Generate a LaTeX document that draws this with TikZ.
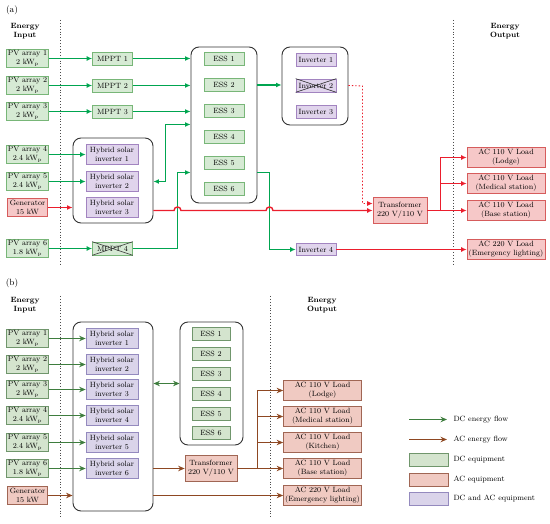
\documentclass[tikz,border=0pt]{standalone}
\usepackage{amsmath}
\usepackage{tikz}
\usetikzlibrary{arrows.meta, positioning}

\definecolor{dcflowA}{RGB}{0,165,80}
\definecolor{acflowA}{RGB}{235,30,45}
\definecolor{dcflowB}{RGB}{62,125,62}
\definecolor{acflowB}{RGB}{142,72,34}
\definecolor{dcfillA}{RGB}{214,234,212}
\definecolor{dclineA}{RGB}{120,182,120}
\definecolor{acfillA}{RGB}{246,200,200}
\definecolor{aclineA}{RGB}{214,92,92}
\definecolor{hyfillA}{RGB}{224,212,236}
\definecolor{hylineA}{RGB}{162,132,192}
\definecolor{dcfillB}{RGB}{212,228,206}
\definecolor{dclineB}{RGB}{112,150,108}
\definecolor{acfillB}{RGB}{240,202,194}
\definecolor{aclineB}{RGB}{160,102,84}
\definecolor{hyfillB}{RGB}{218,212,234}
\definecolor{hylineB}{RGB}{148,138,190}

\begin{document}
\begin{tikzpicture}[
    x=1pt, y=-1pt,
    every node/.style={font=\fontsize{7.6}{8.6}\selectfont},
    unit/.style={draw, align=center, inner sep=1pt, line width=0.7pt},
    dcboxA/.style={unit, fill=dcfillA, draw=dclineA},
    acboxA/.style={unit, fill=acfillA, draw=aclineA},
    hyboxA/.style={unit, fill=hyfillA, draw=hylineA},
    dcboxB/.style={unit, fill=dcfillB, draw=dclineB},
    acboxB/.style={unit, fill=acfillB, draw=aclineB},
    hyboxB/.style={unit, fill=hyfillB, draw=hylineB},
    srcsize/.style={minimum width=40pt, minimum height=18pt},
    smallsize/.style={minimum width=40pt, minimum height=13pt},
    hybsize/.style={minimum width=52pt, minimum height=20pt},
    loadsize/.style={minimum width=78pt, minimum height=20pt},
    trafosize/.style={minimum width=54pt, minimum height=26pt},
    group/.style={draw=black!80, rounded corners=8pt, line width=0.9pt},
    dcA/.style={color=dcflowA, line width=1.4pt, -{Latex[length=5.5pt,width=5pt]}},
    acA/.style={color=acflowA, line width=1.4pt, -{Latex[length=5.5pt,width=5pt]}},
    dcB/.style={color=dcflowB, line width=1.4pt, -{Stealth[length=6.5pt,width=5.5pt]}},
    acB/.style={color=acflowB, line width=1.4pt, -{Stealth[length=6.5pt,width=5.5pt]}},
    divider/.style={draw=black!70, dotted, line width=0.9pt},
    heading/.style={font=\fontsize{7.6}{9}\selectfont\bfseries, align=center}
]
\useasboundingbox (0,0) rectangle (550,524);

%% ---------------- (a) ----------------
\node (tagA) at (12,10) {\fontsize{9}{10}\selectfont (a)};
\node[heading] (inA) at (25,31) {Energy\\Input};
\node[heading] (outA) at (505,31) {Energy\\Output};
\coordinate (dA1) at (60,20);
\coordinate (dA2) at (60,265);
\coordinate (dA3) at (453,20);
\coordinate (dA4) at (453,265);
\draw[divider] (dA1) -- (dA2);
\draw[divider] (dA3) -- (dA4);

% containers
\node[group, minimum width=66pt, minimum height=156pt] (essboxA) at (224,125) {};
\node[group, minimum width=80pt, minimum height=85pt] (hybboxA) at (113,180.5) {};
\node[group, minimum width=66pt, minimum height=78pt] (invboxA) at (315,86) {};

% sources
\node[dcboxA, srcsize] (pvA1) at (27.5,58.5) {PV array 1\\2 kW$_\mathrm{p}$};
\node[dcboxA, srcsize] (pvA2) at (27.5,85.5) {PV array 2\\2 kW$_\mathrm{p}$};
\node[dcboxA, srcsize] (pvA3) at (27.5,111.5) {PV array 3\\2 kW$_\mathrm{p}$};
\node[dcboxA, srcsize] (pvA4) at (27.5,154.5) {PV array 4\\2.4 kW$_\mathrm{p}$};
\node[dcboxA, srcsize] (pvA5) at (27.5,181.5) {PV array 5\\2.4 kW$_\mathrm{p}$};
\node[acboxA, srcsize] (genA) at (27.5,207.5) {Generator\\15 kW};
\node[dcboxA, srcsize] (pvA6) at (27.5,248.5) {PV array 6\\1.8 kW$_\mathrm{p}$};

% charge controllers
\foreach \i/\y in {1/58.5, 2/85.5, 3/111.5, 4/248.5}
    \node[dcboxA, smallsize] (mpptA\i) at (112.5,\y) {MPPT \i};
\draw[black!75, line width=0.6pt] (mpptA4.north west) -- (mpptA4.south east)
    (mpptA4.south west) -- (mpptA4.north east);

% storage
\foreach \i/\y in {1/59, 2/85, 3/111, 4/137, 5/163, 6/189}
    \node[dcboxA, smallsize] (essA\i) at (224,\y) {ESS \i};

% hybrid inverters
\node[hyboxA, hybsize] (hybA1) at (112,154.5) {Hybrid solar\\inverter 1};
\node[hyboxA, hybsize] (hybA2) at (112,181.5) {Hybrid solar\\inverter 2};
\node[hyboxA, hybsize] (hybA3) at (112,207.5) {Hybrid solar\\inverter 3};

% inverters
\foreach \i/\y in {1/59.5, 2/85.5, 3/112}
    \node[hyboxA, smallsize] (invA\i) at (316,\y) {Inverter \i};
\draw[black!80, line width=0.6pt] (invA2.north west) -- (invA2.south east)
    (invA2.south west) -- (invA2.north east);
\node[hyboxA, smallsize, minimum height=12pt] (invA4) at (316,249.5) {Inverter 4};

% transformer and loads
\node[acboxA, trafosize] (trafoA) at (400,210.5) {Transformer\\220 V/110 V};
\node[acboxA, loadsize] (lodgeA) at (506,157.5) {AC 110 V Load\\(Lodge)};
\node[acboxA, loadsize] (medA) at (506,183.5) {AC 110 V Load\\(Medical station)};
\node[acboxA, loadsize] (baseA) at (506,210.5) {AC 110 V Load\\(Base station)};
\node[acboxA, loadsize] (emerA) at (506,249.5) {AC 220 V Load\\(Emergency lighting)};

% DC flows
\foreach \i in {1,2,3} {
    \draw[dcA] (pvA\i.east |- mpptA\i) -- (mpptA\i);
    \draw[dcA] (mpptA\i) -- (mpptA\i -| essboxA.west);
}
\draw[dcA] (pvA4) -- (hybA1);
\draw[dcA] (pvA5) -- (hybA2);
\draw[dcA] (pvA6) -- (mpptA4);
\coordinate (ja) at (165.5,124.5);
\draw[dcA, {Latex[length=5.5pt,width=5pt]}-{Latex[length=5.5pt,width=5pt]}]
    (ja -| essboxA.west) -- (ja) |- (hybA2 -| hybboxA.east);
\coordinate (jb) at (177.5,172.5);
\draw[dcA] (mpptA4) -| (jb) -- (jb -| essboxA.west);
\coordinate (jc) at (269.5,172.5);
\draw[dcA] (jc -| essboxA.east) -- (jc) |- (invA4);
\draw[dcA] (essA2 -| essboxA.east) -- (essA2 -| invboxA.west);

% AC flows
\draw[acA] (genA) -- (genA -| hybboxA.west);
\coordinate (h1) at (177.5,210.5);
\coordinate (h2) at (269.5,210.5);
\draw[acA] (hybboxA.east |- h1) -- ([xshift=-3.5pt]h1)
    to[out=90, in=90, looseness=1.7] ([xshift=3.5pt]h1) -- ([xshift=-3.5pt]h2)
    to[out=90, in=90, looseness=1.7] ([xshift=3.5pt]h2) -- (trafoA);
\coordinate (jd) at (362.5,86);
\draw[acA, dotted, line width=0.9pt] (invA2 -| invboxA.east) -- (jd) |- ([yshift=7pt]trafoA.west);
\coordinate (je) at (440.5,210.5);
\draw[acA] (trafoA) -- (baseA);
\draw[acA] (je) |- (lodgeA);
\draw[acA] (je |- medA) -- (medA);
\draw[acA] (invA4) -- (emerA);

%% ---------------- (b) ----------------
\node (tagB) at (12,283) {\fontsize{9}{10}\selectfont (b)};
\node[heading] (inB) at (25,305) {Energy\\Input};
\node[heading] (outB) at (322,305) {Energy\\Output};
\coordinate (dB1) at (60,296);
\coordinate (dB2) at (60,517);
\coordinate (dB3) at (270,296);
\coordinate (dB4) at (270,517);
\draw[divider] (dB1) -- (dB2);
\draw[divider] (dB3) -- (dB4);

\node[group, minimum width=80pt, minimum height=189pt] (hybboxB) at (113,416.5) {};
\node[group, minimum width=63pt, minimum height=123pt] (essboxB) at (211.5,383.5) {};

\node[dcboxB, srcsize] (pvB1) at (27.5,338.5) {PV array 1\\2 kW$_\mathrm{p}$};
\node[dcboxB, srcsize] (pvB2) at (27.5,364.5) {PV array 2\\2 kW$_\mathrm{p}$};
\node[dcboxB, srcsize] (pvB3) at (27.5,389.5) {PV array 3\\2 kW$_\mathrm{p}$};
\node[dcboxB, srcsize] (pvB4) at (27.5,415.5) {PV array 4\\2.4 kW$_\mathrm{p}$};
\node[dcboxB, srcsize] (pvB5) at (27.5,442.5) {PV array 5\\2.4 kW$_\mathrm{p}$};
\node[dcboxB, srcsize] (pvB6) at (27.5,468.5) {PV array 6\\1.8 kW$_\mathrm{p}$};
\node[acboxB, srcsize] (genB) at (27.5,495.5) {Generator\\15 kW};

\foreach \i/\y in {1/338.5, 2/364.5, 3/389.5, 4/415.5, 5/442.5, 6/468.5} {
    \node[hyboxB, hybsize] (hybB\i) at (112,\y) {Hybrid solar\\inverter \i};
    \draw[dcB] (pvB\i) -- (hybB\i);
}
\foreach \i/\y in {1/334, 2/354, 3/374, 4/393.5, 5/413.5, 6/433}
    \node[dcboxB, smallsize, minimum width=38pt] (essB\i) at (211,\y) {ESS \i};

\node[acboxB, trafosize, minimum width=52pt] (trafoB) at (211,468.5) {Transformer\\220 V/110 V};
\node[acboxB, loadsize] (lodgeB) at (322.5,390.5) {AC 110 V Load\\(Lodge)};
\node[acboxB, loadsize] (medB) at (322.5,416.5) {AC 110 V Load\\(Medical station)};
\node[acboxB, loadsize] (kitB) at (322.5,442.5) {AC 110 V Load\\(Kitchen)};
\node[acboxB, loadsize] (baseB) at (322.5,468.5) {AC 110 V Load\\(Base station)};
\node[acboxB, loadsize] (emerB) at (322.5,495.5) {AC 220 V Load\\(Emergency lighting)};

\coordinate (jf) at (166,383.5);
\draw[dcB, {Stealth[length=6.5pt,width=5.5pt]}-{Stealth[length=6.5pt,width=5.5pt]}]
    (jf -| hybboxB.east) -- (jf -| essboxB.west);
\draw[acB] (genB) -- (genB -| hybboxB.west);
\draw[acB] (hybB6 -| hybboxB.east) -- (trafoB);
\coordinate (jg) at (257.5,468.5);
\draw[acB] (trafoB) -- (baseB);
\draw[acB] (jg) |- (lodgeB);
\draw[acB] (jg |- medB) -- (medB);
\draw[acB] (jg |- kitB) -- (kitB);
\draw[acB] (emerB -| hybboxB.east) -- (emerB);

% legend
\coordinate (lg1) at (409,419.5);
\coordinate (lg2) at (447,419.5);
\coordinate (lg3) at (409,439.5);
\coordinate (lg4) at (447,439.5);
\draw[dcB] (lg1) -- (lg2);
\draw[acB] (lg3) -- (lg4);
\node[anchor=west] (lgt1) at (450,419.5) {DC energy flow};
\node[anchor=west] (lgt2) at (450,439.5) {AC energy flow};
\node[dcboxB, minimum width=39pt, minimum height=13pt] (lgb1) at (428.5,459.5) {};
\node[acboxB, minimum width=39pt, minimum height=13pt] (lgb2) at (428.5,479.5) {};
\node[hyboxB, minimum width=39pt, minimum height=13pt] (lgb3) at (428.5,499) {};
\node[anchor=west] (lgt3) at (450,459.5) {DC equipment};
\node[anchor=west] (lgt4) at (450,479.5) {AC equipment};
\node[anchor=west] (lgt5) at (450,499) {DC and AC equipment};

\end{tikzpicture}
\end{document}
